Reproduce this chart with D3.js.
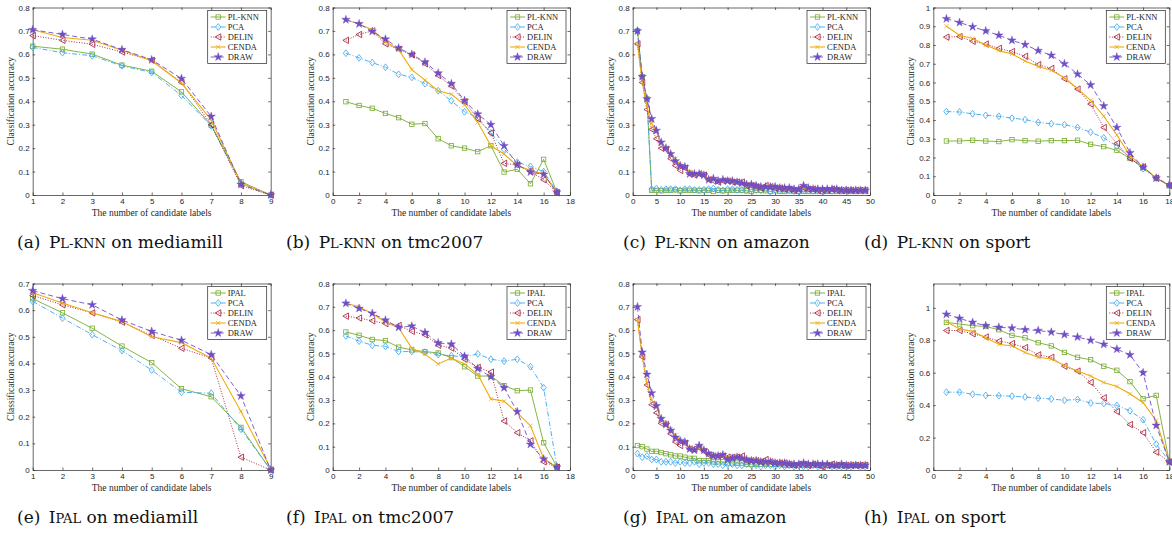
<!DOCTYPE html>
<html>
<head>
<meta charset="utf-8">
<script src="https://cdn.jsdelivr.net/npm/d3@7"></script>
<style>
body { margin: 0; background: #fff; }
</style>
</head>
<body>
<div class="chart"></div>
<script>
var WIDTH = 1172,
	HEIGHT = 534;

// ---- data ----
var methodsKnn = ["PL-KNN", "PCA", "DELIN", "CENDA", "DRAW"];
var methodsIpal = ["IPAL", "PCA", "DELIN", "CENDA", "DRAW"];

var xMedia = [1, 2, 3, 4, 5, 6, 7, 8, 9];
var xTmc = [1, 2, 3, 4, 5, 6, 7, 8, 9, 10, 11, 12, 13, 14, 15, 16, 17];
var xSport = [1, 2, 3, 4, 5, 6, 7, 8, 9, 10, 11, 12, 13, 14, 15, 16, 17, 18];
var xAmazon = [1, 2, 3, 4, 5, 6, 7, 8, 9, 10, 11, 12, 13, 14, 15, 16, 17, 18, 19, 20,
	21, 22, 23, 24, 25, 26, 27, 28, 29, 30, 31, 32, 33, 34, 35, 36, 37, 38, 39, 40,
	41, 42, 43, 44, 45, 46, 47, 48, 49];

// (a) PL-KNN on mediamill
var aPlknn = [0.635, 0.622, 0.601, 0.554, 0.528, 0.44, 0.298, 0.057, 0];
var aPca = [0.63, 0.607, 0.594, 0.551, 0.523, 0.425, 0.295, 0.05, 0];
var aDelin = [0.68, 0.66, 0.643, 0.61, 0.575, 0.48, 0.3, 0.04, 0];
var aCenda = [0.705, 0.672, 0.66, 0.618, 0.573, 0.478, 0.32, 0.05, 0];
var aDraw = [0.705, 0.685, 0.665, 0.62, 0.577, 0.497, 0.335, 0.045, 0];

// (b) PL-KNN on tmc2007
var bPlknn = [0.398, 0.382, 0.37, 0.348, 0.33, 0.302, 0.305, 0.24, 0.21, 0.2, 0.185, 0.21, 0.098, 0.11, 0.048, 0.152, 0.012];
var bPca = [0.605, 0.585, 0.565, 0.545, 0.515, 0.502, 0.475, 0.445, 0.402, 0.355, 0.33, 0.265, 0.195, 0.14, 0.122, 0.1, 0.015];
var bDelin = [0.66, 0.685, 0.7, 0.645, 0.622, 0.598, 0.56, 0.51, 0.465, 0.398, 0.325, 0.265, 0.135, 0.128, 0.1, 0.065, 0.01];
var bCenda = [0.748, 0.73, 0.705, 0.655, 0.62, 0.535, 0.49, 0.445, 0.43, 0.385, 0.31, 0.21, 0.175, 0.125, 0.105, 0.09, 0.01];
var bDraw = [0.748, 0.73, 0.698, 0.665, 0.627, 0.6, 0.567, 0.52, 0.475, 0.403, 0.345, 0.3, 0.21, 0.13, 0.098, 0.088, 0.012];

// (c) PL-KNN on amazon
var cPlknn = [0.7, 0.505, 0.41, 0.02, 0.02, 0.018, 0.02, 0.02, 0.022, 0.018, 0.02, 0.02, 0.02, 0.018, 0.02, 0.02, 0.015, 0.02,
	0.018, 0.02, 0.02, 0.02, 0.02, 0.018, 0.015, 0.02, 0.02, 0.018, 0.015, 0.018, 0.015, 0.015, 0.018, 0.015, 0.015, 0.015,
	0.015, 0.015, 0.015, 0.015, 0.015, 0.015, 0.015, 0.015, 0.015, 0.015, 0.015, 0.015, 0.015];
var cPca = [0.7, 0.505, 0.41, 0.025, 0.028, 0.022, 0.025, 0.025, 0.025, 0.02, 0.025, 0.025, 0.022, 0.022, 0.022, 0.025, 0.028, 0.022,
	0.02, 0.025, 0.025, 0.022, 0.022, 0.02, 0.025, 0.022, 0.02, 0.025, 0.015, 0.022, 0.02, 0.022, 0.02, 0.018, 0.015, 0.022,
	0.02, 0.018, 0.02, 0.015, 0.02, 0.018, 0.02, 0.018, 0.022, 0.02, 0.018, 0.02, 0.02];
var cDelin = [0.645, 0.48, 0.365, 0.28, 0.24, 0.2, 0.195, 0.155, 0.125, 0.105, 0.115, 0.09, 0.085, 0.09, 0.085, 0.065, 0.06, 0.055,
	0.06, 0.06, 0.055, 0.055, 0.055, 0.04, 0.04, 0.035, 0.03, 0.04, 0.035, 0.03, 0.03, 0.025, 0.025, 0.02, 0.025, 0.03,
	0.025, 0.025, 0.02, 0.02, 0.02, 0.025, 0.02, 0.02, 0.02, 0.02, 0.02, 0.02, 0.02];
var cCenda = [0.645, 0.49, 0.375, 0.305, 0.27, 0.22, 0.2, 0.175, 0.155, 0.13, 0.12, 0.1, 0.09, 0.09, 0.085, 0.07, 0.065, 0.06,
	0.06, 0.06, 0.055, 0.05, 0.05, 0.045, 0.04, 0.04, 0.035, 0.035, 0.035, 0.03, 0.03, 0.03, 0.025, 0.025, 0.025, 0.03,
	0.025, 0.025, 0.025, 0.02, 0.02, 0.025, 0.02, 0.02, 0.02, 0.02, 0.02, 0.02, 0.02];
var cDraw = [0.7, 0.505, 0.41, 0.325, 0.275, 0.225, 0.2, 0.175, 0.145, 0.125, 0.12, 0.09, 0.09, 0.09, 0.085, 0.065, 0.07, 0.06,
	0.065, 0.06, 0.06, 0.055, 0.05, 0.045, 0.045, 0.04, 0.035, 0.035, 0.035, 0.035, 0.03, 0.03, 0.03, 0.025, 0.025, 0.04,
	0.03, 0.025, 0.025, 0.025, 0.025, 0.025, 0.025, 0.02, 0.02, 0.02, 0.02, 0.02, 0.02];

// (d) PL-KNN on sport
var dPlknn = [0.288, 0.288, 0.292, 0.288, 0.285, 0.295, 0.29, 0.287, 0.29, 0.29, 0.292, 0.27, 0.258, 0.238, 0.195, 0.148, 0.09, 0.05];
var dPca = [0.445, 0.443, 0.433, 0.425, 0.42, 0.41, 0.402, 0.387, 0.38, 0.375, 0.36, 0.335, 0.305, 0.26, 0.2, 0.14, 0.09, 0.05];
var dDelin = [0.842, 0.845, 0.82, 0.805, 0.782, 0.765, 0.74, 0.695, 0.675, 0.62, 0.565, 0.485, 0.36, 0.275, 0.195, 0.15, 0.09, 0.05];
var dCenda = [0.9, 0.852, 0.835, 0.8, 0.77, 0.752, 0.715, 0.685, 0.665, 0.625, 0.568, 0.505, 0.42, 0.32, 0.21, 0.15, 0.09, 0.05];
var dDraw = [0.94, 0.92, 0.897, 0.875, 0.852, 0.825, 0.802, 0.77, 0.745, 0.7, 0.645, 0.587, 0.475, 0.36, 0.225, 0.148, 0.09, 0.055];

// (e) IPAL on mediamill
var eIpal = [0.643, 0.59, 0.532, 0.465, 0.403, 0.305, 0.275, 0.16, 0];
var ePca = [0.633, 0.57, 0.508, 0.448, 0.375, 0.292, 0.288, 0.153, 0];
var eDelin = [0.655, 0.62, 0.59, 0.555, 0.505, 0.457, 0.42, 0.048, 0];
var eCenda = [0.665, 0.627, 0.59, 0.557, 0.5, 0.478, 0.42, 0.22, 0.005];
var eDraw = [0.673, 0.643, 0.62, 0.563, 0.52, 0.487, 0.433, 0.278, 0];

// (f) IPAL on tmc2007
var fIpal = [0.592, 0.578, 0.56, 0.555, 0.527, 0.515, 0.508, 0.502, 0.482, 0.443, 0.403, 0.403, 0.362, 0.34, 0.343, 0.117, 0.015];
var fPca = [0.575, 0.553, 0.535, 0.53, 0.508, 0.508, 0.505, 0.495, 0.49, 0.485, 0.498, 0.475, 0.467, 0.475, 0.443, 0.353, 0.015];
var fDelin = [0.66, 0.652, 0.64, 0.628, 0.62, 0.595, 0.58, 0.535, 0.523, 0.475, 0.44, 0.42, 0.21, 0.16, 0.125, 0.035, 0.012];
var fCenda = [0.715, 0.7, 0.67, 0.635, 0.61, 0.522, 0.497, 0.455, 0.48, 0.455, 0.41, 0.305, 0.295, 0.245, 0.19, 0.05, 0.012];
var fDraw = [0.715, 0.693, 0.672, 0.643, 0.612, 0.617, 0.59, 0.545, 0.54, 0.488, 0.435, 0.4, 0.353, 0.25, 0.11, 0.047, 0.012];

// (g) IPAL on amazon
var gIpal = [0.105, 0.1, 0.09, 0.08, 0.08, 0.075, 0.07, 0.065, 0.06, 0.06, 0.055, 0.05, 0.05, 0.04, 0.04, 0.04, 0.035, 0.035,
	0.035, 0.03, 0.03, 0.03, 0.03, 0.025, 0.025, 0.025, 0.025, 0.025, 0.025, 0.025, 0.025, 0.02, 0.02, 0.02, 0.02, 0.02,
	0.02, 0.02, 0.02, 0.02, 0.02, 0.02, 0.02, 0.02, 0.02, 0.02, 0.02, 0.02, 0.02];
var gPca = [0.07, 0.055, 0.06, 0.045, 0.045, 0.035, 0.035, 0.035, 0.03, 0.035, 0.03, 0.03, 0.035, 0.025, 0.03, 0.03, 0.025, 0.025,
	0.02, 0.025, 0.025, 0.02, 0.02, 0.025, 0.02, 0.02, 0.015, 0.02, 0.02, 0.015, 0.02, 0.015, 0.02, 0.015, 0.02, 0.015,
	0.015, 0.02, 0.015, 0.015, 0.02, 0.015, 0.015, 0.015, 0.015, 0.015, 0.02, 0.015, 0.015];
var gDelin = [0.645, 0.485, 0.365, 0.28, 0.245, 0.2, 0.195, 0.155, 0.12, 0.105, 0.115, 0.09, 0.09, 0.095, 0.08, 0.065, 0.06, 0.06,
	0.06, 0.055, 0.055, 0.055, 0.06, 0.04, 0.04, 0.04, 0.035, 0.045, 0.035, 0.03, 0.03, 0.03, 0.025, 0.02, 0.025, 0.025,
	0.02, 0.025, 0.02, 0.015, 0.02, 0.025, 0.02, 0.02, 0.02, 0.02, 0.02, 0.02, 0.02];
var gCenda = [0.645, 0.49, 0.375, 0.3, 0.27, 0.22, 0.2, 0.175, 0.15, 0.13, 0.12, 0.095, 0.09, 0.095, 0.085, 0.07, 0.065, 0.06,
	0.06, 0.055, 0.055, 0.05, 0.05, 0.045, 0.04, 0.04, 0.035, 0.035, 0.035, 0.03, 0.03, 0.03, 0.025, 0.025, 0.025, 0.025,
	0.025, 0.025, 0.025, 0.02, 0.02, 0.025, 0.02, 0.02, 0.02, 0.02, 0.02, 0.02, 0.02];
var gDraw = [0.7, 0.505, 0.41, 0.33, 0.275, 0.22, 0.195, 0.17, 0.14, 0.125, 0.12, 0.09, 0.085, 0.105, 0.085, 0.07, 0.06, 0.06,
	0.065, 0.045, 0.05, 0.055, 0.05, 0.045, 0.04, 0.04, 0.035, 0.035, 0.035, 0.03, 0.03, 0.03, 0.025, 0.025, 0.025, 0.03,
	0.025, 0.025, 0.025, 0.025, 0.025, 0.02, 0.02, 0.025, 0.02, 0.02, 0.02, 0.02, 0.02];

// (h) IPAL on sport
var hIpal = [0.91, 0.9, 0.89, 0.885, 0.865, 0.83, 0.815, 0.785, 0.765, 0.725, 0.695, 0.68, 0.64, 0.615, 0.545, 0.44, 0.46, 0.05];
var hPca = [0.48, 0.48, 0.467, 0.46, 0.458, 0.455, 0.45, 0.443, 0.438, 0.43, 0.435, 0.413, 0.41, 0.398, 0.365, 0.31, 0.16, 0.055];
var hDelin = [0.86, 0.86, 0.84, 0.82, 0.795, 0.78, 0.755, 0.71, 0.695, 0.64, 0.61, 0.54, 0.445, 0.36, 0.28, 0.23, 0.11, 0.05];
var hCenda = [0.915, 0.87, 0.855, 0.815, 0.775, 0.765, 0.725, 0.695, 0.685, 0.645, 0.61, 0.58, 0.54, 0.515, 0.47, 0.415, 0.305, 0.05];
var hDraw = [0.96, 0.935, 0.91, 0.89, 0.88, 0.875, 0.865, 0.86, 0.85, 0.835, 0.82, 0.8, 0.775, 0.745, 0.71, 0.6, 0.275, 0.05];

// tick labels
var xTicksMedia = [1, 2, 3, 4, 5, 6, 7, 8, 9];
var xTicks18 = [0, 2, 4, 6, 8, 10, 12, 14, 16, 18];
var xTicks50 = [0, 5, 10, 15, 20, 25, 30, 35, 40, 45, 50];
var yTicks07 = [0, 0.1, 0.2, 0.3, 0.4, 0.5, 0.6, 0.7];
var yTicks08 = [0, 0.1, 0.2, 0.3, 0.4, 0.5, 0.6, 0.7, 0.8];
var yTicks10 = [0, 0.1, 0.2, 0.3, 0.4, 0.5, 0.6, 0.7, 0.8, 0.9, 1];
var yTicksH = [0, 0.2, 0.4, 0.6, 0.8, 1];

// ---- styles ----
var COLORS = ["#77ac30", "#38a8f2", "#a2142f", "#f0ab0c", "#6f4ec6"];
var DASHES = [null, "5,2,1,2", "1,1.6", null, "5,3"];
var MARKERS = ["square", "diamond", "triLeft", "cross", "star"];

var TOP_ROW = [7.5, 195], BOT_ROW = [283.5, 470];
var COLS = [[32.7, 270.7], [332.7, 570], [632.7, 870], [933.3, 1169.3]];
var CAP_X = [17, 286, 623, 864];

var panels = [
	{cap: "(a)", alg: "knn", data: "mediamill", row: TOP_ROW, col: 0, xs: xMedia, xd: [1, 9], xt: xTicksMedia, yd: [0, 0.8], yt: yTicks08, names: methodsKnn, series: [aPlknn, aPca, aDelin, aCenda, aDraw]},
	{cap: "(b)", alg: "knn", data: "tmc2007", row: TOP_ROW, col: 1, xs: xTmc, xd: [0, 18], xt: xTicks18, yd: [0, 0.8], yt: yTicks08, names: methodsKnn, series: [bPlknn, bPca, bDelin, bCenda, bDraw]},
	{cap: "(c)", alg: "knn", data: "amazon", row: TOP_ROW, col: 2, xs: xAmazon, xd: [0, 50], xt: xTicks50, yd: [0, 0.8], yt: yTicks08, names: methodsKnn, series: [cPlknn, cPca, cDelin, cCenda, cDraw]},
	{cap: "(d)", alg: "knn", data: "sport", row: TOP_ROW, col: 3, xs: xSport, xd: [0, 18], xt: xTicks18, yd: [0, 1], yt: yTicks10, names: methodsKnn, series: [dPlknn, dPca, dDelin, dCenda, dDraw]},
	{cap: "(e)", alg: "ipal", data: "mediamill", row: BOT_ROW, col: 0, xs: xMedia, xd: [1, 9], xt: xTicksMedia, yd: [0, 0.7], yt: yTicks07, names: methodsIpal, series: [eIpal, ePca, eDelin, eCenda, eDraw]},
	{cap: "(f)", alg: "ipal", data: "tmc2007", row: BOT_ROW, col: 1, xs: xTmc, xd: [0, 18], xt: xTicks18, yd: [0, 0.8], yt: yTicks08, names: methodsIpal, series: [fIpal, fPca, fDelin, fCenda, fDraw]},
	{cap: "(g)", alg: "ipal", data: "amazon", row: BOT_ROW, col: 2, xs: xAmazon, xd: [0, 50], xt: xTicks50, yd: [0, 0.8], yt: yTicks08, names: methodsIpal, series: [gIpal, gPca, gDelin, gCenda, gDraw]},
	{cap: "(h)", alg: "ipal", data: "sport", row: BOT_ROW, col: 3, xs: xSport, xd: [0, 18], xt: xTicks18, yd: [0, 1.15], yt: yTicksH, names: methodsIpal, series: [hIpal, hPca, hDelin, hCenda, hDraw]}
];

var svg = d3.select(".chart").append("svg")
	.attr("width", WIDTH)
	.attr("height", HEIGHT)
	.style("display", "block");

var starPath = d3.symbol().type(d3.symbolStar).size(22)();

var drawMarker = function(g, type, color, x, y) {
	if (type === "square") {
		g.append("rect").attr("x", x - 2.2).attr("y", y - 2.2).attr("width", 4.4).attr("height", 4.4)
			.attr("fill", "none").attr("stroke", color).attr("stroke-width", 0.8);
	} else if (type === "diamond") {
		g.append("path").attr("d", "M" + x + "," + (y - 3.4) + "L" + (x + 2.6) + "," + y + "L" + x + "," + (y + 3.4) + "L" + (x - 2.6) + "," + y + "Z")
			.attr("fill", "none").attr("stroke", color).attr("stroke-width", 0.8);
	} else if (type === "triLeft") {
		g.append("path").attr("d", "M" + (x - 3) + "," + y + "L" + (x + 2.6) + "," + (y - 3.2) + "L" + (x + 2.6) + "," + (y + 3.2) + "Z")
			.attr("fill", "none").attr("stroke", color).attr("stroke-width", 0.8);
	} else if (type === "cross") {
		g.append("path").attr("d", "M" + (x - 2) + "," + (y - 2) + "L" + (x + 2) + "," + (y + 2) + "M" + (x - 2) + "," + (y + 2) + "L" + (x + 2) + "," + (y - 2))
			.attr("fill", "none").attr("stroke", color).attr("stroke-width", 0.8);
	} else {
		g.append("path").attr("d", starPath).attr("transform", "translate(" + x + "," + y + ")")
			.attr("fill", color).attr("stroke", color).attr("stroke-width", 0.4);
	}
};

var fmt = function(d) { return d3.format("~g")(+d.toFixed(2)); };

var drawPanel = function(p) {
	var x0 = COLS[p.col][0], x1 = COLS[p.col][1];
	var y0 = p.row[0], y1 = p.row[1];

	var xScale = d3.scaleLinear().domain(p.xd).range([x0, x1]);
	var yScale = d3.scaleLinear().domain(p.yd).range([y1, y0]);

	var g = svg.append("g");

	g.append("rect").attr("x", x0).attr("y", y0).attr("width", x1 - x0).attr("height", y1 - y0)
		.attr("fill", "#fff");

	var axes = [
		[d3.axisBottom(xScale).tickValues(p.xt).tickFormat(fmt), "translate(0," + y1 + ")"],
		[d3.axisTop(xScale).tickValues(p.xt).tickFormat(""), "translate(0," + y0 + ")"],
		[d3.axisLeft(yScale).tickValues(p.yt).tickFormat(fmt), "translate(" + x0 + ",0)"],
		[d3.axisRight(yScale).tickValues(p.yt).tickFormat(""), "translate(" + x1 + ",0)"]
	];
	axes.forEach(function(a) {
		var ax = g.append("g")
			.attr("transform", a[1])
			.call(a[0].tickSizeInner(-2.5).tickSizeOuter(0).tickPadding(3));
		ax.select(".domain").attr("stroke", "#262626").attr("stroke-width", 0.7);
		ax.selectAll(".tick line").attr("stroke", "#262626").attr("stroke-width", 0.7);
		ax.selectAll(".tick text").attr("fill", "#262626")
			.style("font-family", "'Liberation Sans', Arial, sans-serif").style("font-size", "8px");
	});

	// axis titles
	g.append("text")
		.attr("x", (x0 + x1) / 2).attr("y", y1 + 21)
		.attr("text-anchor", "middle")
		.style("font-family", "'Liberation Serif', 'Times New Roman', serif").style("font-size", "9.5px")
		.attr("fill", "#262626")
		.text("The number of candidate labels");
	g.append("text")
		.attr("transform", "translate(" + (x0 - 19) + "," + ((y0 + y1) / 2) + ") rotate(-90)")
		.attr("text-anchor", "middle")
		.style("font-family", "'Liberation Serif', 'Times New Roman', serif").style("font-size", "9.5px")
		.attr("fill", "#262626")
		.text("Classification accuracy");

	// series
	var line = d3.line()
		.x(function(d) { return xScale(d[0]); })
		.y(function(d) { return yScale(d[1]); });

	p.series.forEach(function(vals, si) {
		var pts = vals.map(function(v, i) { return [p.xs[i], v]; });
		var sg = g.append("g");
		sg.append("path")
			.attr("d", line(pts))
			.attr("fill", "none")
			.attr("stroke", COLORS[si])
			.attr("stroke-width", si === 3 ? 1.1 : 0.9)
			.attr("stroke-dasharray", DASHES[si]);
		pts.forEach(function(d) {
			drawMarker(sg, MARKERS[si], COLORS[si], xScale(d[0]), yScale(d[1]));
		});
	});

	// legend
	var lw = 59, lh = 53;
	var lx = x1 - lw - 4, ly = y0 + 3;
	var lg = g.append("g");
	lg.append("rect").attr("x", lx).attr("y", ly).attr("width", lw).attr("height", lh)
		.attr("fill", "#fff").attr("stroke", "#262626").attr("stroke-width", 0.7);
	p.names.forEach(function(name, i) {
		var yy = ly + 6.5 + i * 10;
		lg.append("line")
			.attr("x1", lx + 3).attr("x2", lx + 18).attr("y1", yy).attr("y2", yy)
			.attr("stroke", COLORS[i]).attr("stroke-width", i === 3 ? 1.1 : 0.9)
			.attr("stroke-dasharray", DASHES[i]);
		drawMarker(lg, MARKERS[i], COLORS[i], lx + 10.5, yy);
		lg.append("text")
			.attr("x", lx + 20).attr("y", yy + 3)
			.style("font-family", "'Liberation Serif', 'Times New Roman', serif").style("font-size", "8.5px")
			.attr("fill", "#262626")
			.text(name);
	});

	// caption
	var capY = p.row === TOP_ROW ? 248 : 523;
	var cap = svg.append("text")
		.attr("x", CAP_X[p.col]).attr("y", capY)
		.style("font-family", "'DejaVu Serif', 'Liberation Serif', serif")
		.style("font-size", "17px")
		.attr("fill", "#111");
	cap.append("tspan").text(p.cap + "\u2002");
	if (p.alg === "knn") {
		cap.append("tspan").text("P");
		cap.append("tspan").style("font-size", "13px").text("L-KNN");
	} else {
		cap.append("tspan").text("I");
		cap.append("tspan").style("font-size", "13px").text("PAL");
	}
	cap.append("tspan").text(" on " + p.data);
};

panels.forEach(drawPanel);
</script>
</body>
</html>
